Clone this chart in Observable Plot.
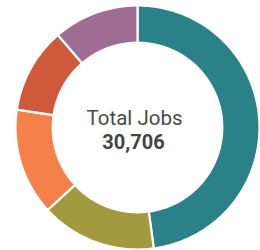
<!DOCTYPE html>
<html>
<head>
<meta charset="utf-8">
<script src="https://cdn.jsdelivr.net/npm/d3@7"></script>
<script src="https://cdn.jsdelivr.net/npm/@observablehq/plot@0.6"></script>
<style>
  html, body { margin: 0; padding: 0; background: #fff; }
  #chart { width: 260px; height: 250px; }
</style>
</head>
<body>
<div id="chart"></div>
<script>
const categories = ["Category 1", "Category 2", "Category 3", "Category 4", "Category 5"];
const values = [14700, 4700, 4350, 3480, 3476];
const colors = ["#2b8188", "#a39a3f", "#f5804a", "#d0583b", "#9f6c93"];
const centerLabel = "Total Jobs";
const totalLabel = "30,706";

const innerRatio = 0.695;
const arcs = d3.pie().sort(null)(values);
const pts = [];
arcs.forEach((a, i) => {
  const n = Math.max(4, Math.ceil((a.endAngle - a.startAngle) / (Math.PI / 180)));
  const outer = [], inner = [];
  for (let k = 0; k <= n; k++) {
    const t = a.startAngle + (a.endAngle - a.startAngle) * k / n;
    outer.push({cat: categories[i], x: Math.sin(t), y: Math.cos(t)});
    inner.push({cat: categories[i], x: innerRatio * Math.sin(t), y: innerRatio * Math.cos(t)});
  }
  pts.push(...outer, ...inner.reverse());
});

const chart = Plot.plot({
  width: 260,
  height: 250,
  marginLeft: 15,
  marginRight: 1,
  marginTop: 5,
  marginBottom: 1,
  x: {domain: [-1, 1], axis: null},
  y: {domain: [-1, 1], axis: null},
  color: {domain: categories, range: colors},
  style: {fontFamily: "Roboto, sans-serif", background: "#fff"},
  marks: [
    Plot.line(pts, {x: "x", y: "y", z: "cat", fill: "cat", stroke: "white", strokeWidth: 2.2, curve: "linear-closed"}),
    Plot.text([centerLabel], {x: 0, y: 0, text: d => d, dx: -3, dy: -3, lineAnchor: "bottom", fontSize: 20.5, fill: "#4a4a4a", fontWeight: 400}),
    Plot.text([totalLabel], {x: 0, y: 0, text: d => d, dx: -4, dy: 21, lineAnchor: "bottom", fontSize: 20, fill: "#444", fontWeight: 700, letterSpacing: 0.8})
  ]
});
document.getElementById("chart").appendChild(chart);
</script>
</body>
</html>
